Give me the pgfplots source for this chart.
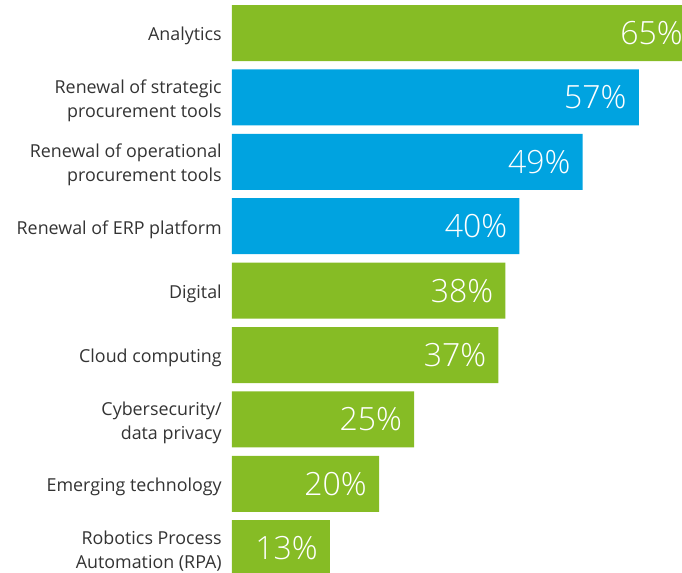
\documentclass[border=0pt]{standalone}
\usepackage{pgfplots}
\usepackage{pgfplotstable}
\pgfplotsset{compat=1.18}
\usepackage{fontspec}
\setmainfont{Open Sans}
\newfontfamily\lightfont{Open Sans Light}
\definecolor{dgreen}{HTML}{86BC25}
\definecolor{dblue}{HTML}{00A3E0}
\definecolor{lbl}{HTML}{333333}

% y = row from top, v = percent
\pgfplotstableread{
y v
0 65
4 38
5 37
6 25
7 20
8 13
}\greendata
\pgfplotstableread{
y v
1 57
2 49
3 40
}\bluedata

\begin{document}
\begin{tikzpicture}
  \begin{axis}[scale only axis, width=337.5pt, height=426pt, at={(0,0)}, anchor=south west,
      xbar, bar width=42pt, bar shift=0pt, clip=false,
      xmin=0, xmax=64.1, ymin=-0.435, ymax=8.385, y dir=reverse,
      axis line style={draw=none}, major tick length=0pt,
      xtick=\empty, ytick={0,...,8},
      yticklabels={Analytics, {Renewal of strategic\\procurement tools},
        {Renewal of operational\\procurement tools}, Renewal of ERP platform,
        Digital, Cloud computing, {Cybersecurity/\\data privacy},
        Emerging technology, {Robotics Process\\Automation (RPA)}},
      yticklabel style={align=right, inner sep=0pt, xshift=-7.5pt, yshift=-2.5pt, text=lbl,
        font=\fontsize{13.4}{18}\selectfont},
      point meta=explicit,
      nodes near coords={\pgfmathprintnumber[assume math mode=true]{\pgfplotspointmeta}\%},
      every node near coord/.append style={anchor=east, xshift=-9pt, inner sep=0pt,
        text=white, font=\lightfont\fontsize{24}{24}\selectfont}]
    \addplot[fill=dgreen, draw=none] table[x expr=\thisrow{v}+0.95, y=y, meta=v] {\greendata};
    \addplot[fill=dblue, draw=none] table[x expr=\thisrow{v}+0.95, y=y, meta=v] {\bluedata};
  \end{axis}
  \pgfresetboundingbox
  \path (-174pt,0) rectangle (337.5pt,429.75pt);
\end{tikzpicture}
\end{document}
